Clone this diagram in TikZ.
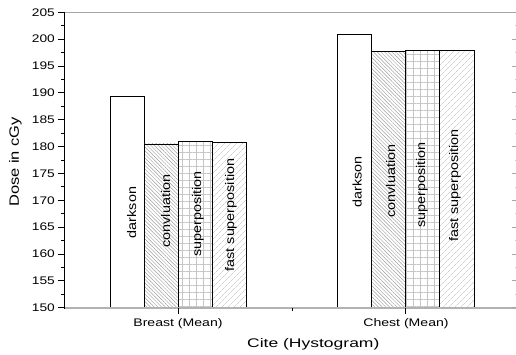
\documentclass[tikz,border=0pt]{standalone}
\usepackage{graphicx}
\usepackage{fontspec}
\setmainfont{Liberation Sans}
\usetikzlibrary{patterns.meta}
\newcommand{\sxx}[2]{\scalebox{#1}[1]{#2}}
\begin{document}
\begin{tikzpicture}[x=1pt,y=-1pt,
  barbox/.style={draw=black, line width=0.9pt},
  convfill/.style={pattern={Lines[angle=-45,distance=2.6pt,line width=0.45pt]}, pattern color=gray!75},
  supfill/.style={pattern={Hatch[distance=7pt,line width=0.55pt]}, pattern color=gray!45},
  fastfill/.style={pattern={Lines[angle=45,distance=4pt,line width=0.45pt]}, pattern color=gray!55},
  barlab/.style={inner sep=0pt, font=\fontsize{12.5}{12.5}\selectfont, rotate=90, anchor=base},
  ticklab/.style={inner sep=0pt, font=\fontsize{11}{11}\selectfont, anchor=east},
  catlab/.style={inner sep=0pt, font=\fontsize{11}{11}\selectfont},
  axtitle/.style={inner sep=0pt, font=\fontsize{12.5}{12.5}\selectfont}]
\useasboundingbox (0,0) rectangle (516,355);
\clip (0,0) rectangle (516,355);
\fill[white] (0,0) rectangle (516,355);

% Breast bars
\draw[barbox, fill=white] (110,307.7) rectangle (144.2,96.7);
\draw[barbox, convfill] (144.2,307.7) rectangle (178.4,144.0);
\draw[barbox, supfill] (178.4,307.7) rectangle (212.6,141.3);
\draw[barbox, fastfill] (212.6,307.7) rectangle (246.8,142.3);
% Chest bars
\draw[barbox, fill=white] (337.2,307.7) rectangle (371.4,34.3);
\draw[barbox, convfill] (371.4,307.7) rectangle (405.6,51.7);
\draw[barbox, supfill] (405.6,307.7) rectangle (439.8,50.7);
\draw[barbox, fastfill] (439.8,307.7) rectangle (474.0,50.7);

% bar labels
\node[barlab] (b1) at (136,212.5) {\sxx{1.15}{darkson}};
\node[barlab] (b2) at (170,211) {\sxx{1.15}{convluation}};
\node[barlab] (b3) at (201,214) {\sxx{1.15}{superposition}};
\node[barlab] (b4) at (234,215) {\sxx{1.15}{fast superposition}};
\node[barlab] (c1) at (361.5,182) {\sxx{1.15}{darkson}};
\node[barlab] (c2) at (395,181) {\sxx{1.15}{convluation}};
\node[barlab] (c3) at (425,185) {\sxx{1.15}{superposition}};
\node[barlab] (c4) at (458,185.5) {\sxx{1.15}{fast superposition}};

% frame
\draw[gray!70, line width=1pt] (64,12.3) -- (520,12.3);
\draw[gray!60, line width=1pt] (517,12.3) -- (517,307.7);
\draw[gray!60, line width=1.6pt] (64,307.7) -- (520,307.7);
\draw[black, line width=1pt] (64,12.3) -- (64,308.5);

% y ticks
\foreach \v [evaluate=\v as \yy using 307.7-(\v-150)*5.37] in {150,155,...,205} {
  \draw[line width=0.9pt] (58,\yy) -- (64,\yy);
  \draw[gray!70, line width=0.9pt] (512,\yy) -- (517,\yy);
  \node[ticklab] (yt\v) at (55,\yy) {\sxx{1.25}{\v}};
}
\foreach \v [evaluate=\v as \yy using 307.7-(\v-150)*5.37] in {152.5,157.5,...,202.5} {
  \draw[line width=0.8pt] (61,\yy) -- (64,\yy);
  \draw[gray!40, line width=0.7pt] (515,\yy) -- (517,\yy);
}
% x ticks
\draw[line width=0.9pt] (178.4,307.7) -- (178.4,314);
\draw[line width=0.9pt] (405.6,307.7) -- (405.6,314);
\draw[line width=0.8pt] (292,307.7) -- (292,311);

% axis labels
\node[catlab] (xb) at (178,323.5) {\sxx{1.28}{Breast (Mean)}};
\node[catlab] (xc) at (406,323.5) {\sxx{1.28}{Chest (Mean)}};
\node[axtitle] (xt) at (313.3,344) {\sxx{1.4}{Cite (Hystogram)}};
\node[axtitle, rotate=90, font=\fontsize{13.5}{13.5}\selectfont] (yl) at (15.5,162) {\sxx{1.22}{Dose in cGy}};
\end{tikzpicture}
\end{document}
